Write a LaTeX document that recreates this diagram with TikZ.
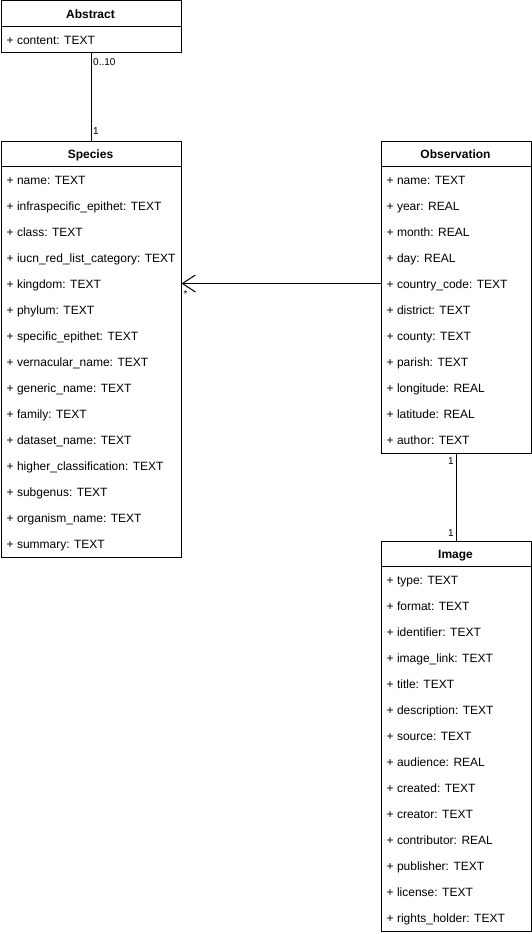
\documentclass[tikz,border=0pt]{standalone}
\usepackage{fontspec}
\setmainfont{Liberation Sans}
\usetikzlibrary{arrows.meta}
\tikzset{
  umltitle/.style={font=\fontsize{12}{14}\selectfont\bfseries, inner sep=0pt, text height=8.6pt, text depth=0pt},
  umlattr/.style={font=\fontsize{12}{14}\selectfont, inner sep=0pt, anchor=west, text height=8.6pt, text depth=0pt},
  umlbox/.style={draw=black, line width=1pt, anchor=north west, inner sep=0pt},
  mult/.style={font=\fontsize{10}{12}\selectfont, inner sep=0pt},
  assoc/.style={draw=black, line width=1pt}
}
\newcommand\umlclass[6]{%
  \foreach \a [count=\i from 0] in {#6} {
    \node[umlattr] (#1-\i) at (#2+6, #3+39.5+26*\i) {\a};
    \xdef\umllast{\i}
  }
  \node[umlbox, minimum width=#4pt, minimum height={26pt*(\umllast+2)}] (#1) at (#2,#3) {};
  \node[umltitle] (#1-title) at (#2+#4/2, #3+13.5) {#5};
  \draw[line width=1pt] (#2,#3+26) -- ++(#4,0);
}
\begin{document}
\begin{tikzpicture}[x=1pt,y=-1pt]
\useasboundingbox[fill=white] (0,0) rectangle (531,934);
\umlclass{abstract}{0.5}{0.5}{180}{Abstract}{+ content: TEXT}
\umlclass{species}{0.5}{140.5}{180}{Species}{+ name: TEXT,+ infraspecific\_epithet: TEXT,+ class: TEXT,+ iucn\_red\_list\_category: TEXT,+ kingdom: TEXT,+ phylum: TEXT,+ specific\_epithet: TEXT,+ vernacular\_name: TEXT,+ generic\_name: TEXT,+ family: TEXT,+ dataset\_name: TEXT,+ higher\_classification: TEXT,+ subgenus: TEXT,+ organism\_name: TEXT,+ summary: TEXT}
\umlclass{obs}{380.5}{140.5}{150}{Observation}{+ name: TEXT,+ year: REAL,+ month: REAL,+ day: REAL,+ country\_code: TEXT,+ district: TEXT,+ county: TEXT,+ parish: TEXT,+ longitude: REAL,+ latitude: REAL,+ author: TEXT}
\umlclass{image}{380.5}{540.5}{150}{Image}{+ type: TEXT,+ format: TEXT,+ identifier: TEXT,+ image\_link: TEXT,+ title: TEXT,+ description: TEXT,+ source: TEXT,+ audience: REAL,+ created: TEXT,+ creator: TEXT,+ contributor: REAL,+ publisher: TEXT,+ license: TEXT,+ rights\_holder: TEXT}
% Abstract -- Species
\draw[assoc] (abstract.south) -- (species.north);
\node[mult, anchor=west] (m1) at (93,62) {0..10};
\node[mult, anchor=west] (m2) at (93,131) {1};
% Observation -> Species
\coordinate (oa) at (obs.west |- 0,283.5);
\coordinate (sa) at (species.east |- 0,283.5);
\draw[assoc, -{Straight Barb[length=13pt,width=17pt,line width=1pt]}] (oa) -- (sa);
\node[mult] (m3) at (185.5,294) {*};
% Observation -- Image
\draw[assoc] (obs.south) -- (image.north);
\node[mult, anchor=east] (m4) at (454,461) {1};
\node[mult, anchor=east] (m5) at (454,533) {1};
\end{tikzpicture}
\end{document}
